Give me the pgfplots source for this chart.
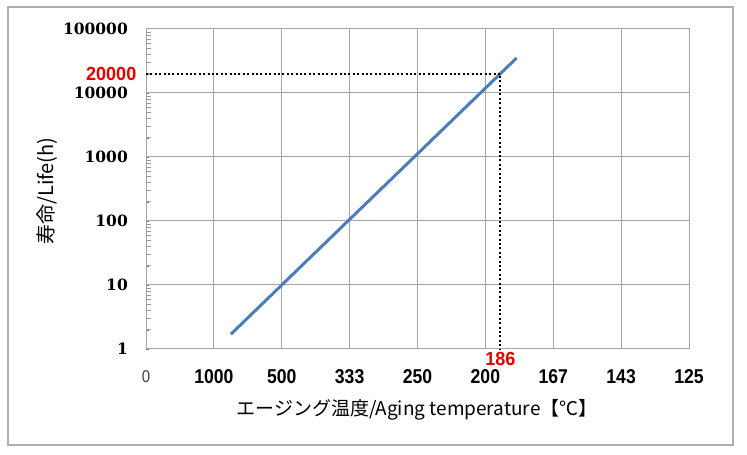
\documentclass[border=0pt]{standalone}
\usepackage{fontspec}
\setmainfont{Liberation Sans}
\newfontfamily\jp{Noto Sans CJK JP}
\newfontfamily\ser{DejaVu Serif}
\usepackage{pgfplots}
\pgfplotsset{compat=1.18}
\definecolor{linecol}{RGB}{74,126,187}
\definecolor{gridcol}{RGB}{165,165,165}
\definecolor{framecol}{RGB}{175,175,175}
\definecolor{lblred}{RGB}{230,0,0}
\begin{document}
\begin{tikzpicture}[x=1pt,y=1pt]
\useasboundingbox (0,0) rectangle (747,455);
\draw[framecol, line width=1.2pt] (8,10) rectangle (733,448);
\begin{axis}[
  at={(146pt,106pt)}, anchor=south west,
  scale only axis, width=543pt, height=320pt,
  xmin=0, xmax=8, ymode=log, ymin=1, ymax=100000,
  xtick={0,1,2,3,4,5,6,7,8},
  xticklabels={{\color{black!75}\fontsize{17}{19}\selectfont\mdseries 0},1000,500,333,250,200,167,143,125},
  xticklabel style={font=\fontsize{20}{22}\selectfont\bfseries, xscale=0.88, anchor=center, yshift=-28pt},
  ytick={1,10,100,1000,10000,100000},
  yticklabels={1,10,100,1000,10000,100000},
  extra y ticks={2,3,4,5,6,7,8,9,20,30,40,50,60,70,80,90,200,300,400,500,600,700,800,900,2000,3000,4000,5000,6000,7000,8000,9000,20000,30000,40000,50000,60000,70000,80000,90000},
  extra y tick labels={},
  extra y tick style={ymajorgrids=false, major tick length=5pt, ytick align=inside, tick style={black!40, line width=0.8pt}},
  yticklabel style={font=\ser\bfseries\fontsize{15.5}{17}\selectfont, anchor=east, inner sep=0pt, xshift=-18pt},
  ytick pos=left, xtick pos=bottom,
  major tick length=0pt,
  ymajorgrids, xmajorgrids,
  major grid style={gridcol, line width=1pt},
  axis line style={gridcol, line width=1pt},
  clip=false,
]
\addplot[linecol, line width=3pt] coordinates {
  (1.25,1.70) (2,10) (3,106) (4,1122) (5,11885) (5.22,20000) (5.46,35200)
};
\addplot[black, line width=2pt, dash pattern=on 2pt off 2.4pt] coordinates {
  (0,20000) (5.22,20000) (5.22,1)
};
\node[lblred, font=\fontsize{19}{21}\selectfont\bfseries, xscale=0.95, anchor=east, inner sep=0pt] at (axis cs:0,20000) [xshift=-10pt] {20000};
\node[lblred, font=\fontsize{19}{21}\selectfont\bfseries, xscale=0.95, anchor=center, inner sep=0pt] at (axis cs:5.22,1) [yshift=-10pt] {186};
\end{axis}
\node[rotate=90, font=\jp\fontsize{20}{22}\selectfont, inner sep=0pt] at (47,264) {寿命/Life(h)};
\node[font=\jp\fontsize{19}{21}\selectfont, inner sep=0pt] at (417,45) {エージング温度/Aging temperature【℃】};
\end{tikzpicture}
\end{document}
